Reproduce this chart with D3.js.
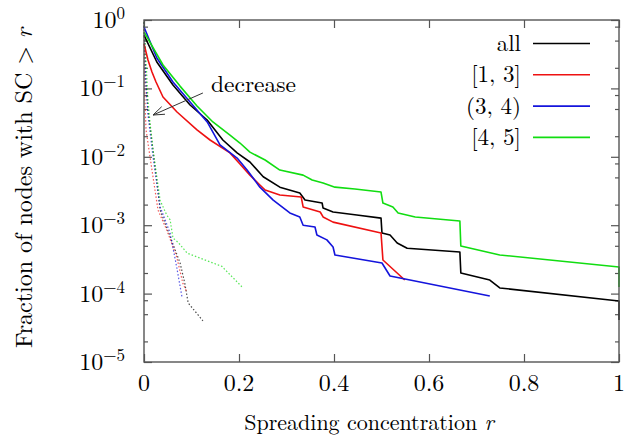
<!DOCTYPE html>
<html>
<head>
<meta charset="utf-8">
<script src="https://cdn.jsdelivr.net/npm/d3@7"></script>
<style>
  body { margin: 0; background: #fff; }
</style>
</head>
<body>
<div id="chart"></div>
<script>
// solid curves: r values and fraction of nodes with SC > r
var allR = [0, 0.027, 0.061, 0.097, 0.133, 0.166, 0.196, 0.223, 0.251, 0.286, 0.328, 0.339, 0.375, 0.377, 0.398, 0.448, 0.499, 0.501, 0.518, 0.533, 0.554, 0.665, 0.667, 0.728, 0.749, 1.0, 1.0];
var allF = [0.60, 0.243, 0.112, 0.0572, 0.0345, 0.0176, 0.0114, 0.0084, 0.0051, 0.0036, 0.00296, 0.00233, 0.00211, 0.00178, 0.00156, 0.00141, 0.00127, 0.00077, 0.00072, 0.00055, 0.00046, 0.000405, 0.0002, 0.000158, 0.000121, 0.000078, 0.000041];

var lowR = [0, 0.0084, 0.0168, 0.0253, 0.040, 0.0695, 0.1116, 0.139, 0.181, 0.202, 0.223, 0.244, 0.255, 0.286, 0.331, 0.335, 0.371, 0.377, 0.398, 0.499, 0.503, 0.549];
var lowF = [0.446, 0.26, 0.174, 0.124, 0.0748, 0.0452, 0.0247, 0.0176, 0.0114, 0.00785, 0.0054, 0.00387, 0.00327, 0.00277, 0.00258, 0.00185, 0.00156, 0.00132, 0.00111, 0.00077, 0.00031, 0.000158];

var midR = [0, 0.027, 0.061, 0.097, 0.133, 0.16, 0.196, 0.217, 0.244, 0.272, 0.307, 0.328, 0.335, 0.36, 0.364, 0.385, 0.398, 0.402, 0.501, 0.518, 0.728];
var midF = [0.79, 0.278, 0.124, 0.0633, 0.0323, 0.0149, 0.0096, 0.0064, 0.0036, 0.00233, 0.00151, 0.00132, 0.0010, 0.00094, 0.00072, 0.00061, 0.00048, 0.000367, 0.00028, 0.000181, 0.000092];

var highR = [0, 0.04, 0.0758, 0.1116, 0.145, 0.181, 0.202, 0.223, 0.255, 0.286, 0.335, 0.354, 0.377, 0.402, 0.444, 0.499, 0.503, 0.524, 0.535, 0.571, 0.665, 0.667, 0.749, 1.0, 1.0];
var highF = [0.67, 0.22, 0.108, 0.0553, 0.0323, 0.0208, 0.0159, 0.0117, 0.00898, 0.0064, 0.0054, 0.00458, 0.00414, 0.0036, 0.00338, 0.00305, 0.00211, 0.00185, 0.00151, 0.00132, 0.00115, 0.000497, 0.000367, 0.000245, 0.000125];

// dotted curves (the "decrease" group)
var allDotR = [0, 0.002, 0.004, 0.0084, 0.019, 0.034, 0.055, 0.076, 0.086, 0.093, 0.124];
var allDotF = [0.93, 0.36, 0.13, 0.048, 0.0126, 0.00166, 0.00068, 0.00028, 0.00014, 0.000073, 0.00004];
var lowDotR = [0, 0.001, 0.002, 0.0042, 0.0168, 0.0295, 0.048, 0.069, 0.082, 0.089];
var lowDotF = [0.93, 0.26, 0.068, 0.025, 0.0064, 0.00166, 0.00085, 0.00034, 0.00014, 0.00011];
var midDotR = [0, 0.002, 0.004, 0.0084, 0.019, 0.034, 0.055, 0.069, 0.080];
var midDotF = [0.93, 0.31, 0.11, 0.041, 0.010, 0.00185, 0.00077, 0.00024, 0.000089];
var highDotR = [0, 0.0042, 0.0084, 0.0126, 0.019, 0.034, 0.048, 0.055, 0.061, 0.072, 0.091, 0.164, 0.206];
var highDotF = [0.93, 0.26, 0.068, 0.032, 0.0126, 0.0023, 0.0014, 0.0012, 0.00065, 0.00056, 0.00039, 0.00025, 0.000126];

var legendLabels = ["all", "[1, 3]", "(3, 4)", "[4, 5]"];
var xTicks = [0, 0.2, 0.4, 0.6, 0.8, 1];
var yExponents = [0, -1, -2, -3, -4, -5];

var W = 634, H = 445,
    mleft = 144, mright = 619, mtop = 20, mbottom = 362;

var colors = ["#000000", "#ee1111", "#1414dc", "#11dd11"];
var serif = "'Latin Modern Roman'";

var svg = d3.select("#chart")
  .append("svg")
  .attr("width", W)
  .attr("height", H);

var x = d3.scaleLinear().domain([0, 1]).range([mleft, mright]);
var y = d3.scaleLog().domain([1e-5, 1]).range([mbottom, mtop]);

// minor ticks at 2, 5, 8 per decade
var minor = [];
yExponents.slice(1).forEach(function(e) {
  [2, 5, 8].forEach(function(m) { minor.push(m * Math.pow(10, e)); });
});
var major = yExponents.map(function(e) { return Math.pow(10, e); });

var axisColor = "#555";

function styleAxis(g) {
  g.select(".domain").remove();
  g.selectAll("line").attr("stroke", axisColor).attr("stroke-width", 1.2);
  g.selectAll("text").remove();
}

svg.append("g").attr("transform", "translate(0," + mbottom + ")")
  .call(d3.axisBottom(x).tickValues(xTicks).tickSize(-8)).call(styleAxis);
svg.append("g").attr("transform", "translate(0," + mtop + ")")
  .call(d3.axisTop(x).tickValues(xTicks).tickSize(-8)).call(styleAxis);
svg.append("g").attr("transform", "translate(" + mleft + ",0)")
  .call(d3.axisLeft(y).tickValues(major).tickSize(-8)).call(styleAxis);
svg.append("g").attr("transform", "translate(" + mleft + ",0)")
  .call(d3.axisLeft(y).tickValues(minor).tickSize(-4)).call(styleAxis);
svg.append("g").attr("transform", "translate(" + mright + ",0)")
  .call(d3.axisRight(y).tickValues(major).tickSize(-8)).call(styleAxis);
svg.append("g").attr("transform", "translate(" + mright + ",0)")
  .call(d3.axisRight(y).tickValues(minor).tickSize(-4)).call(styleAxis);

// tick labels
svg.selectAll(".xl").data(xTicks).enter().append("text")
  .attr("x", function(d) { return x(d); })
  .attr("y", mbottom + 29)
  .attr("text-anchor", "middle")
  .style("font-family", serif)
  .style("font-size", "24px")
  .text(function(d) { return d; });

var yl = svg.selectAll(".yl").data(yExponents).enter().append("text")
  .attr("x", 125)
  .attr("y", function(d) { return y(Math.pow(10, d)) + 8; })
  .attr("text-anchor", "end")
  .style("font-family", serif)
  .style("font-size", "24px");
yl.append("tspan").text("10");
yl.append("tspan").attr("dy", -9).style("font-size", "17px")
  .text(function(d) { return d === 0 ? "0" : "\u2212" + (-d); });

// axis titles
var xt = svg.append("text")
  .attr("x", 369).attr("y", 430)
  .attr("text-anchor", "middle")
  .style("font-family", serif)
  .style("font-size", "22px");
xt.append("tspan").text("Spreading concentration ");
xt.append("tspan").style("font-style", "italic").text("r");

var yt = svg.append("text")
  .attr("transform", "translate(32,188) rotate(-90)")
  .attr("text-anchor", "middle")
  .style("font-family", serif)
  .style("font-size", "24px");
yt.append("tspan").text("Fraction of nodes with SC > ");
yt.append("tspan").style("font-style", "italic").text("r");

var line = d3.line()
  .x(function(d) { return x(d[0]); })
  .y(function(d) { return y(d[1]); });

function pairs(rs, fs) {
  return rs.map(function(r, i) { return [r, fs[i]]; });
}

var dotted = [pairs(allDotR, allDotF), pairs(lowDotR, lowDotF), pairs(midDotR, midDotF), pairs(highDotR, highDotF)];
svg.selectAll(".dot").data(dotted).enter().append("path")
  .attr("d", line)
  .attr("fill", "none")
  .attr("stroke", function(d, i) { return colors[i]; })
  .attr("stroke-width", 1.2)
  .attr("stroke-dasharray", "1.5,2")
  .attr("opacity", 0.7);

var solid = [pairs(allR, allF), pairs(lowR, lowF), pairs(midR, midF), pairs(highR, highF)];
svg.selectAll(".solid").data(solid).enter().append("path")
  .attr("d", line)
  .attr("fill", "none")
  .attr("stroke", function(d, i) { return colors[i]; })
  .attr("stroke-width", 1.6)
  .attr("stroke-linejoin", "round");

// frame
svg.append("rect")
  .attr("x", mleft).attr("y", mtop)
  .attr("width", mright - mleft).attr("height", mbottom - mtop)
  .attr("fill", "none")
  .attr("stroke", axisColor)
  .attr("stroke-width", 1.4);

// annotation
var tail = [x(0.124), y(0.0857)], head = [x(0.019), y(0.0408)];
svg.append("line")
  .attr("x1", tail[0]).attr("y1", tail[1])
  .attr("x2", head[0]).attr("y2", head[1])
  .attr("stroke", "#333").attr("stroke-width", 1);
var ang = Math.atan2(tail[1] - head[1], tail[0] - head[0]);
[0.35, -0.35].forEach(function(da) {
  svg.append("line")
    .attr("x1", head[0]).attr("y1", head[1])
    .attr("x2", head[0] + 12 * Math.cos(ang + da))
    .attr("y2", head[1] + 12 * Math.sin(ang + da))
    .attr("stroke", "#333").attr("stroke-width", 1);
});
svg.append("text")
  .attr("x", x(0.141)).attr("y", y(0.0857) - 1)
  .style("font-family", serif)
  .style("font-size", "23.5px")
  .text("decrease");

// legend
var lg = svg.selectAll(".lg").data(legendLabels).enter().append("g")
  .attr("transform", function(d, i) { return "translate(0," + (43.5 + i * 31.3) + ")"; });
lg.append("text")
  .attr("x", 521).attr("y", 7.5)
  .attr("text-anchor", "end")
  .style("font-family", serif)
  .style("font-size", "23px")
  .text(function(d) { return d; });
lg.append("line")
  .attr("x1", 533).attr("x2", 590)
  .attr("stroke", function(d, i) { return colors[i]; })
  .attr("stroke-width", 1.6);
</script>
</body>
</html>
